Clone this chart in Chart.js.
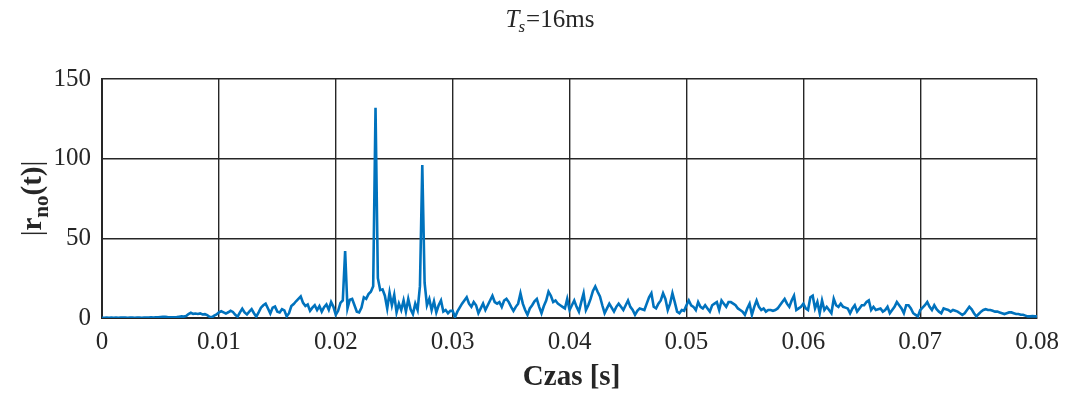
<!DOCTYPE html>
<html><head><meta charset="utf-8">
<script src="https://cdn.jsdelivr.net/npm/chart.js@4/dist/chart.umd.min.js"></script>
<style>html,body{margin:0;padding:0;background:#fff;overflow:hidden}#wrap{width:1068px;height:394px;position:relative}</style>
</head><body><div id="wrap"><canvas id="c" width="1068" height="394"></canvas></div>
<script>
// sampling step of the signal [s]
const timeStep = 0.0002;
// |r_no(t)| samples, one per timeStep, from t = 0 to t = 0.08 s
const rValues = [
0.2,0.2,0.3,0.2,0.3,0.2,0.3,0.2,0.3,0.3,
0.3,0.2,0.3,0.3,0.2,0.3,0.3,0.2,0.3,0.3,
0.3,0.4,0.3,0.4,0.5,0.6,0.7,0.8,0.6,0.5,
0.4,0.5,0.6,0.8,1.0,0.9,1.2,2.5,3.3,2.6,
2.8,2.5,2.9,2.2,2.4,1.8,0.8,0.4,1.5,2.2,
3.5,4.2,3.5,2.8,3.6,4.5,3.8,2.0,0.8,3.5,
5.8,3.5,2.2,4.0,5.6,3.0,0.8,3.5,6.5,8.0,
9.0,6.0,2.8,6.5,7.2,4.0,3.5,5.5,4.8,1.0,
3.0,7.5,8.8,10.5,12.0,13.5,9.5,7.5,8.5,4.5,
6.5,8.0,5.0,7.5,4.0,6.8,8.5,5.2,10.0,7.0,
2.0,4.5,9.5,11.0,42.0,6.0,11.5,12.0,8.0,4.0,
3.5,6.5,13.0,12.0,15.0,16.5,20.0,132.0,25.0,17.5,
18.0,14.0,6.0,16.0,8.0,14.5,3.5,9.0,5.0,11.0,
4.0,12.0,5.5,2.5,9.0,5.0,20.0,96.0,22.0,8.0,
12.0,5.0,10.5,3.5,8.0,11.0,4.0,5.0,3.0,4.5,
4.5,0.5,4.0,6.5,9.0,11.0,13.0,9.0,7.0,10.0,
8.0,3.0,6.0,9.0,5.0,8.0,11.0,14.0,10.0,9.0,
10.0,7.0,11.0,12.0,10.0,7.0,4.5,7.0,9.0,15.5,
9.0,5.0,2.0,6.0,8.0,10.5,12.0,7.0,3.0,7.5,
11.0,16.5,14.0,10.0,11.0,9.0,8.0,7.0,6.0,12.0,
5.0,8.0,11.0,7.0,4.0,10.0,15.5,5.0,8.0,12.0,
17.0,19.8,16.5,13.5,8.0,3.0,6.0,9.0,6.5,4.0,
7.0,9.0,7.0,5.0,8.0,11.0,7.0,5.0,2.0,4.5,
6.0,5.5,5.0,9.0,13.0,15.5,7.0,6.0,9.0,11.0,
15.5,12.0,5.0,9.0,15.5,10.0,4.0,3.0,5.0,4.5,
8.0,11.0,8.0,7.0,5.0,10.0,7.0,6.0,8.0,6.0,
4.0,8.0,9.0,10.0,5.0,11.0,9.0,7.0,10.0,10.0,
9.0,8.0,6.0,5.0,4.0,2.0,6.0,9.0,2.0,7.0,
11.0,7.0,5.0,6.0,4.0,5.0,5.0,4.5,5.0,6.0,
8.0,10.0,12.0,9.0,7.0,11.0,14.0,5.0,6.0,7.0,
9.0,6.0,5.0,13.0,14.0,6.0,10.0,3.0,11.0,5.0,
7.0,5.0,3.0,12.0,8.0,7.0,9.0,7.0,6.5,6.0,
3.0,6.0,8.0,4.0,6.0,8.0,8.0,10.0,11.0,5.0,
7.0,5.0,5.5,6.0,4.0,5.0,7.0,3.0,5.0,7.0,
10.0,8.0,6.0,3.0,8.0,8.0,6.0,3.0,2.0,1.0,
5.0,6.5,8.0,10.0,7.0,5.0,8.0,5.5,4.0,3.0,
6.0,5.5,5.0,4.0,5.0,4.5,4.0,3.0,2.0,3.0,
5.0,7.0,5.5,3.0,1.0,2.5,4.0,5.0,5.5,5.0,
5.0,4.5,4.0,4.0,3.5,3.0,2.5,3.0,3.5,3.5,
3.0,2.5,2.5,2.0,2.0,1.5,1.0,1.0,1.2,1.0,1.0
];
const xTicks = [0, 0.01, 0.02, 0.03, 0.04, 0.05, 0.06, 0.07, 0.08];
const xTickLabels = ['0','0.01','0.02','0.03','0.04','0.05','0.06','0.07','0.08'];
const yTicks = [0, 50, 100, 150];
const yTickLabels = ['0','50','100','150'];
const xAxisTitle = 'Czas [s]';
const titleMain = 'T', titleSub = 's', titleRest = '=16ms';
const yLabelParts = ['|', 'r', 'no', '(t)', '|'];

const points = rValues.map((v, i) => ({ x: Number((i * timeStep).toFixed(4)), y: v }));
const SERIF = '"Liberation Serif", "Times New Roman", serif';

const textPlugin = {
  id: 'texts',
  afterDraw(chart) {
    const ctx = chart.ctx;
    const ca = chart.chartArea;
    ctx.save();
    ctx.fillStyle = '#262626';
    ctx.textBaseline = 'alphabetic';
    // Title
    const fMain = 'italic 25px ' + SERIF, fSub = 'italic 17px ' + SERIF, fRest = '25px ' + SERIF;
    ctx.font = fMain; const w1 = ctx.measureText(titleMain).width;
    ctx.font = fSub; const w2 = ctx.measureText(titleSub).width;
    ctx.font = fRest; const w3 = ctx.measureText(titleRest).width;
    let tx = 550 - (w1 + w2 + w3) / 2; const ty = 27;
    ctx.textAlign = 'left';
    ctx.font = fMain; ctx.fillText(titleMain, tx, ty); tx += w1;
    ctx.font = fSub; ctx.fillText(titleSub, tx - 1, ty + 5); tx += w2;
    ctx.font = fRest; ctx.fillText(titleRest, tx, ty);
    // X axis title
    ctx.font = 'bold 29px ' + SERIF;
    ctx.textAlign = 'center';
    ctx.fillText(xAxisTitle, (ca.left + ca.right) / 2 + 2, 385);
    // Y axis label, rotated
    const fonts = ['29px ' + SERIF, 'bold 29px ' + SERIF, 'bold 21px ' + SERIF, 'bold 29px ' + SERIF, '29px ' + SERIF];
    const offs = [0, 0, 7, 0, 0];
    const widths = yLabelParts.map((p, k) => { ctx.font = fonts[k]; return ctx.measureText(p).width; });
    const total = widths.reduce((a, b) => a + b, 0);
    ctx.translate(41, (ca.top + ca.bottom) / 2);
    ctx.rotate(-Math.PI / 2);
    ctx.textAlign = 'left';
    let px = -total / 2;
    yLabelParts.forEach((p, k) => { ctx.font = fonts[k]; ctx.fillText(p, px, offs[k]); px += widths[k]; });
    ctx.restore();
  }
};

new Chart(document.getElementById('c'), {
  type: 'line',
  data: { datasets: [{ data: points, borderColor: '#0072BD', borderWidth: 2.6, pointRadius: 0, tension: 0, fill: false }] },
  options: {
    responsive: false, animation: false, devicePixelRatio: 1,
    layout: { padding: { top: 79, right: 29, left: 0, bottom: 0 } },
    plugins: { legend: { display: false }, tooltip: { enabled: false }, title: { display: false } },
    scales: {
      x: {
        type: 'linear', min: 0, max: 0.08,
        afterBuildTicks: s => { s.ticks = xTicks.map(v => ({ value: v })); },
        afterFit: s => { s.height = 76; },
        ticks: { callback: (v) => xTickLabels[xTicks.indexOf(v)] ?? '', font: { family: SERIF, size: 25 }, color: '#262626', padding: 9, maxRotation: 0, autoSkip: false },
        grid: { color: '#262626', lineWidth: 1.4, drawTicks: false },
        border: { color: '#262626', width: 2 }
      },
      y: {
        type: 'linear', min: 0, max: 150,
        afterBuildTicks: s => { s.ticks = yTicks.map(v => ({ value: v })); },
        afterFit: s => { s.width = 102; },
        ticks: { callback: (v) => yTickLabels[yTicks.indexOf(v)] ?? '', font: { family: SERIF, size: 25 }, color: '#262626', padding: 11 },
        grid: { color: '#262626', lineWidth: 1.4, drawTicks: false },
        border: { color: '#262626', width: 2 }
      }
    }
  },
  plugins: [textPlugin]
});
</script></body></html>
